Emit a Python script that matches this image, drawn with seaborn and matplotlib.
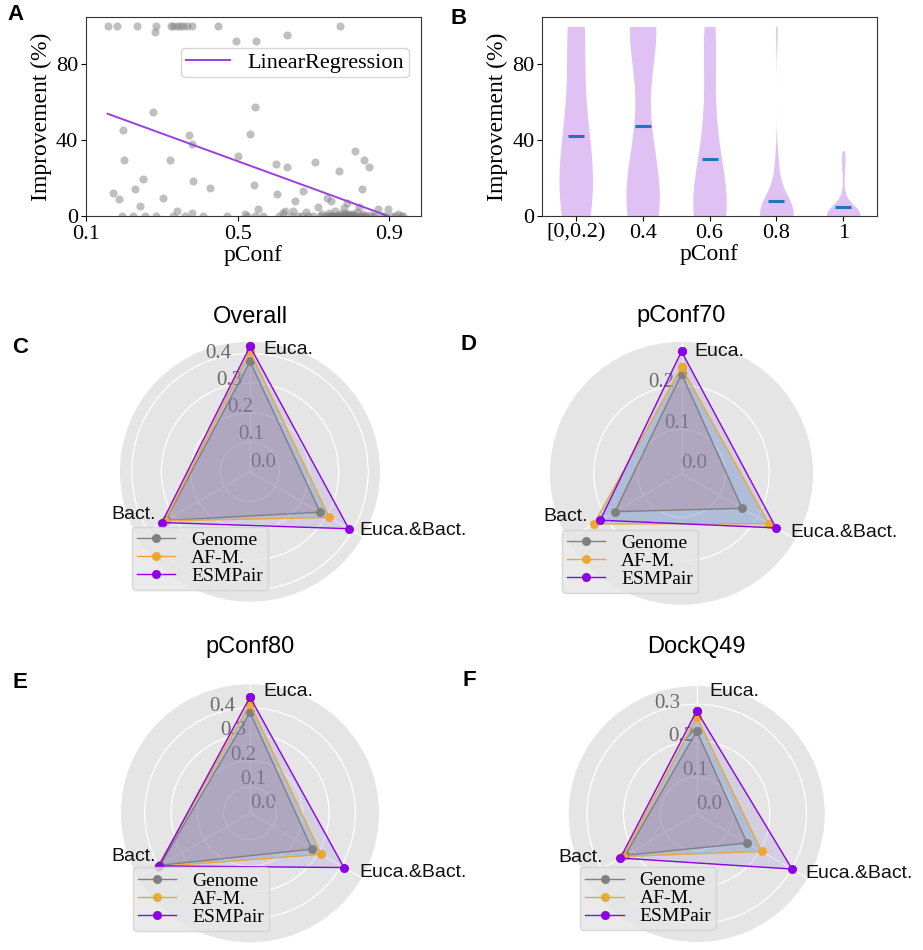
import numpy as np
import pandas as pd
import matplotlib
matplotlib.use("Agg")
import matplotlib.pyplot as plt
import seaborn as sns

# ---------------- Panel A / B data (pConf vs improvement) ----------------
pconf = [
    0.157, 0.183, 0.170, 0.188, 0.194, 0.199, 0.198,
    0.235, 0.286, 0.323, 0.330, 0.339, 0.348, 0.355, 0.366, 0.381,
    0.282, 0.278, 0.371, 0.381, 0.322, 0.250, 0.383, 0.228,
    0.304, 0.242, 0.341, 0.379, 0.225, 0.256, 0.286, 0.330, 0.361,
    0.449, 0.495, 0.549, 0.547, 0.533, 0.501, 0.543, 0.427, 0.555, 0.520,
    0.410, 0.471, 0.524, 0.546, 0.568,
    0.631, 0.770, 0.602, 0.630, 0.705, 0.768, 0.672, 0.603, 0.652, 0.735,
    0.746, 0.788, 0.712, 0.780, 0.625, 0.647,
    0.610, 0.620, 0.640, 0.660, 0.669, 0.680, 0.687, 0.700, 0.717, 0.722,
    0.730, 0.739, 0.742, 0.745, 0.750, 0.753, 0.757, 0.760, 0.761, 0.765,
    0.770, 0.772, 0.775, 0.778, 0.781, 0.783, 0.786, 0.789, 0.790, 0.792,
    0.795, 0.797, 0.799,
    0.811, 0.833, 0.847, 0.827, 0.871, 0.898, 0.924, 0.820,
    0.802, 0.805, 0.808, 0.813, 0.816, 0.822, 0.826, 0.830, 0.836, 0.840,
    0.850, 0.858, 0.862, 0.880, 0.890, 0.905, 0.915, 0.930, 0.937,
]
improvement = [
    100, 100, 12.3, 8.9, 0, 29.8, 45.3,
    100, 100, 100, 100, 100, 100, 100, 100, 100,
    97, 54.9, 42.8, 38.2, 29.5, 19.5, 18.4, 14.0,
    9.3, 5.3, 2.5, 1.4, 0, 0, 0, 0, 0,
    100, 92.3, 92.3, 57.5, 43.5, 31.6, 16.1, 14.9, 3.5, 1.0,
    0, 0, 0, 0, 0,
    95.3, 100, 27.4, 25.6, 28.4, 23.9, 13.0, 11.4, 7.7, 9.3,
    8.1, 6.7, 4.6, 4.0, 2.8, 2.5,
    0, 1.5, 0, 0, 0, 2.0, 0, 0, 0, 1.0,
    0, 0, 1.5, 0, 0, 0, 2.5, 0, 0, 0,
    1.0, 0, 0, 0, 1.8, 0, 0, 0, 0.8, 0,
    0, 1.2, 0,
    34.4, 29.8, 25.6, 14.0, 3.7, 3.7, 1.0, 5.0,
    0, 1.2, 0, 0, 2.0, 0, 0, 1.0, 0, 0,
    0.5, 0, 0, 0, 0, 0, 0, 0, 0,
]
reg_slope = -72.9
reg_intercept = 65.4
reg_x = [0.157, 0.898]

bin_edges = [0, 0.2, 0.4, 0.6, 0.8, 1.0]
bin_labels = ["[0,0.2)", "0.4", "0.6", "0.8", "1"]

# ---------------- Radar data ----------------
radar_categories = ["Euca.", "Bact.", "Euca.&Bact."]
methods = ["Genome", "AF-M.", "ESMPair"]

overall_genome = [0.373, 0.330, 0.274]
overall_afm = [0.407, 0.332, 0.310]
overall_esmpair = [0.424, 0.344, 0.386]

pconf70_genome = [0.227, 0.175, 0.160]
pconf70_afm = [0.242, 0.231, 0.230]
pconf70_esmpair = [0.278, 0.214, 0.249]

pconf80_genome = [0.383, 0.395, 0.272]
pconf80_afm = [0.416, 0.405, 0.312]
pconf80_esmpair = [0.441, 0.400, 0.412]

dockq49_genome = [0.227, 0.226, 0.159]
dockq49_afm = [0.265, 0.232, 0.205]
dockq49_esmpair = [0.282, 0.241, 0.301]

radar_titles = ["Overall", "pConf70", "pConf80", "DockQ49"]
radar_rmax = [0.44, 0.30, 0.49, 0.35]
radar_ticks = [[0.0, 0.1, 0.2, 0.3, 0.4], [0.0, 0.1, 0.2],
               [0.0, 0.1, 0.2, 0.3, 0.4], [0.0, 0.1, 0.2, 0.3]]

line_colors = {"Genome": "#808080", "AF-M.": "#EBA832", "ESMPair": "#8B00E4"}
fill_colors = {"Genome": "#E24A33", "AF-M.": "#348ABD", "ESMPair": "#988ED5"}

SERIF = "Liberation Serif"
SANS = "Liberation Sans"
plt.rcParams["font.family"] = [SERIF, "DejaVu Serif"]

W, H = 923, 950
fig = plt.figure(figsize=(W / 100, H / 100), dpi=100)


def px_axes(left, top, width, height, **kw):
    return fig.add_axes([left / W, 1 - (top + height) / H, width / W, height / H], **kw)


# ---------------- Panel A ----------------
axA = px_axes(86, 17, 335, 199)
sns.scatterplot(x=pconf, y=improvement, color="#808080", alpha=0.5, s=34,
                linewidth=0, ax=axA, zorder=2)
reg_y = [reg_intercept + reg_slope * x for x in reg_x]
sns.lineplot(x=reg_x, y=reg_y, color="#9A3FE0", linewidth=1.4, ax=axA,
             label="LinearRegression", zorder=3)
axA.set_xlim(0.1, 0.984)
axA.set_ylim(0, 105)
axA.set_xticks([0.1, 0.5, 0.9])
axA.set_xticklabels(["0.1", "0.5", "0.9"])
axA.set_yticks([0, 40, 80])
axA.set_xlabel("pConf", fontsize=17, labelpad=1)
axA.set_ylabel("Improvement (%)", fontsize=17, labelpad=3)
axA.tick_params(labelsize=16, length=3.5, width=0.8, pad=2)
axA.tick_params(axis="x", pad=3)
axA.legend(loc="upper right", bbox_to_anchor=(0.964, 0.844), borderaxespad=0,
           fontsize=16, handlelength=2.0, borderpad=0.2, frameon=True)
for s in axA.spines.values():
    s.set_color("#333333")

# ---------------- Panel B ----------------
axB = px_axes(542.3, 17, 334.4, 199)
dfB = pd.DataFrame({"pconf": pconf, "imp": improvement})
dfB["bin"] = pd.cut(dfB["pconf"], bins=bin_edges, right=False, labels=bin_labels)
sns.violinplot(data=dfB, x="bin", y="imp", order=bin_labels, inner=None, cut=0,
               density_norm="width", width=0.5, color="#DFC1F3", saturation=1,
               linewidth=0, ax=axB)
sns.pointplot(data=dfB, x="bin", y="imp", order=bin_labels, estimator="mean",
              errorbar=None, linestyle="none", marker="_", markersize=12,
              markeredgewidth=2.2, color="#1f77b4", ax=axB)
axB.set_xlim(-0.5, 4.5)
axB.set_ylim(0, 105)
axB.set_yticks([0, 40, 80])
axB.set_xlabel("pConf", fontsize=17, labelpad=1)
axB.set_ylabel("Improvement (%)", fontsize=17, labelpad=3)
axB.tick_params(labelsize=16, length=3.5, width=0.8, pad=2)
for s in axB.spines.values():
    s.set_visible(True)
    s.set_color("#333333")

# ---------------- Radar panels ----------------
radar_values = [
    {"Genome": overall_genome, "AF-M.": overall_afm, "ESMPair": overall_esmpair},
    {"Genome": pconf70_genome, "AF-M.": pconf70_afm, "ESMPair": pconf70_esmpair},
    {"Genome": pconf80_genome, "AF-M.": pconf80_afm, "ESMPair": pconf80_esmpair},
    {"Genome": dockq49_genome, "AF-M.": dockq49_afm, "ESMPair": dockq49_esmpair},
]
# (center x, center y, radius, title baseline y) in pixels
radar_geom = [(250, 471.7, 130, 323.3), (681.5, 473.3, 131.5, 321.7),
              (250, 813.3, 129, 653.3), (696.7, 814, 128, 653.3)]
# category label anchors relative to centre (px) and alignment
label_offsets = {"Euca.": (13, -122, "left"), "Bact.": (-94, 43, "right"),
                 "Euca.&Bact.": (109, 59, "left")}

angles = np.linspace(0, 2 * np.pi, len(radar_categories), endpoint=False)
for vals, title, rmax, ticks, (cx, cy, R, tb) in zip(
        radar_values, radar_titles, radar_rmax, radar_ticks, radar_geom):
    ax = px_axes(cx - R, cy - R, 2 * R, 2 * R, projection="polar")
    ax.set_theta_offset(np.pi / 2)
    ax.set_theta_direction(1)
    ax.set_facecolor("#E5E5E5")
    ax.set_axisbelow(True)
    for m in methods:
        v = vals[m]
        th = list(angles) + [angles[0] + 2 * np.pi]
        rr = list(v) + [v[0]]
        sns.lineplot(x=th, y=rr, sort=False, estimator=None, color=line_colors[m],
                     marker="o", markersize=6.5, markeredgewidth=0, linewidth=1.0,
                     ax=ax, zorder=3)
        ax.fill(angles, v, color=fill_colors[m], alpha=0.25, zorder=2, linewidth=0)
    ax.set_ylim(0, rmax)
    ax.set_xticks(angles)
    ax.set_xticklabels([])
    ax.set_yticks(ticks)
    ax.set_yticklabels([f"{t:.1f}" for t in ticks], fontsize=15, color="#6a6a6a",
                       family=SERIF)
    ax.set_rlabel_position(22.5)
    ax.grid(True, color="white", linewidth=0.9)
    ax.spines["polar"].set_visible(False)
    ax.tick_params(axis="x", length=0)
    ax.set_xlabel("")
    ax.set_ylabel("")
    pad_pt = (cy - R - tb) * 0.72
    ax.set_title(title, fontsize=17, family=SANS, pad=pad_pt)
    for cat in radar_categories:
        dx, dy, ha = label_offsets[cat]
        ax.text(0.5 + dx / (2 * R), 0.5 - dy / (2 * R), cat, transform=ax.transAxes,
                ha=ha, va="center", fontsize=14, family=SANS, color="#111111")
    ax.legend(ax.lines[:3], methods, loc="lower left", fontsize=14,
              facecolor="#E5E5E5", framealpha=0.8, edgecolor="#d0d0d0",
              handlelength=2.0, borderpad=0.25, labelspacing=0.02,
              borderaxespad=0.6)

# ---------------- Panel letters ----------------
letters = [("A", 16, 15), ("B", 459, 19), ("C", 20, 348), ("D", 469, 345),
           ("E", 20, 682), ("F", 469, 680)]
for t, x, y in letters:
    fig.text(x / W, 1 - y / H, t, ha="center", va="center", fontsize=16,
             fontweight="bold", family=SANS)

fig.savefig("out.png", dpi=100)
